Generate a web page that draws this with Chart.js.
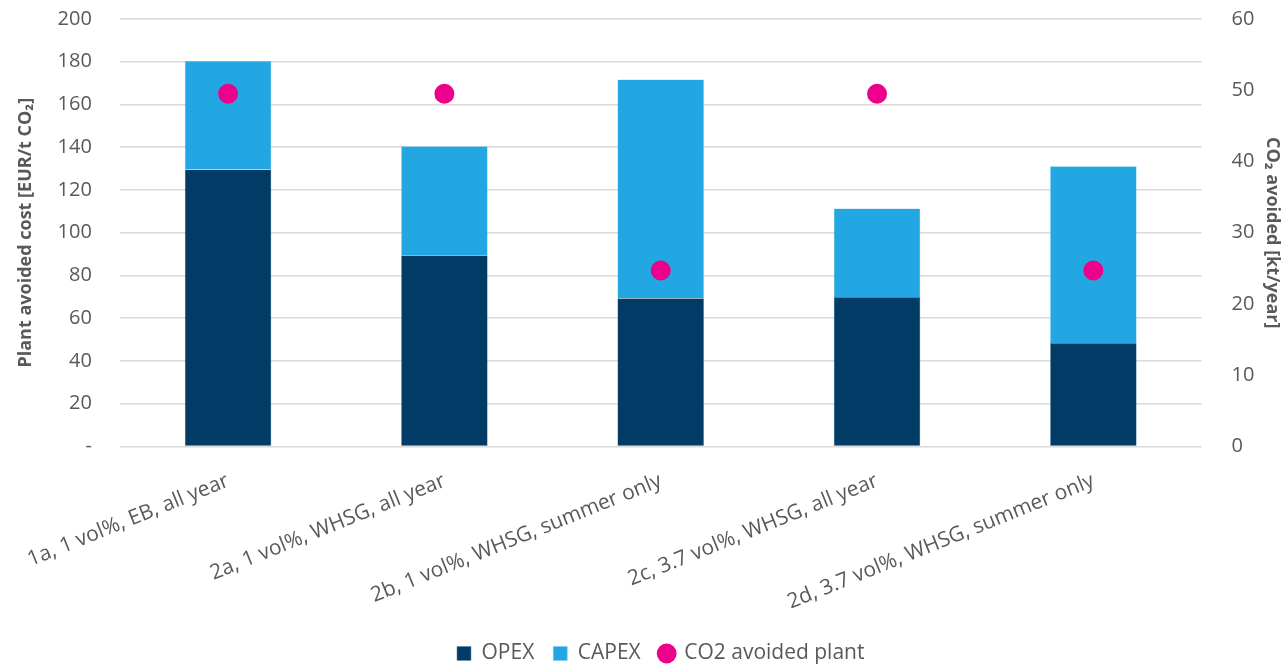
<!DOCTYPE html>
<html lang="en">
<head>
  <meta charset="UTF-8">
  <title>Plant avoided cost</title>
  <script src="https://cdn.jsdelivr.net/npm/chart.js"></script>
  <style>
    html, body {
      margin: 0;
      padding: 0;
      background: white;
    }
    #wrap {
      width: 1284px;
      height: 666px;
    }
  </style>
</head>
<body>
  <div id="wrap"><canvas id="chart"></canvas></div>

  <script>
    const categories = [
      '1a, 1 vol%, EB, all year',
      '2a, 1 vol%, WHSG, all year',
      '2b, 1 vol%, WHSG, summer only',
      '2c, 3.7 vol%, WHSG, all year',
      '2d, 3.7 vol%, WHSG, summer only'
    ];
    const opex = [129.6, 89.5, 69.3, 69.9, 48.4];
    const capex = [50.7, 51.0, 102.4, 41.4, 82.7];
    const co2Avoided = [49.5, 49.5, 24.7, 49.5, 24.7];

    const grey = '#595959';
    const fontFamily = "'Open Sans', 'Noto Sans', sans-serif";

    const ctx = document.getElementById('chart').getContext('2d');
    new Chart(ctx, {
      type: 'bar',
      data: {
        labels: categories,
        datasets: [
          {
            type: 'bar',
            label: 'OPEX',
            data: opex,
            backgroundColor: '#023c66',
            borderColor: '#5a87a8',
            borderWidth: 0.5,
            pointStyle: 'rect',
            stack: 'cost',
            yAxisID: 'y',
            order: 2
          },
          {
            type: 'bar',
            label: 'CAPEX',
            data: capex,
            backgroundColor: '#23a7e2',
            borderColor: '#7fcdf0',
            borderWidth: 0.5,
            pointStyle: 'rect',
            stack: 'cost',
            yAxisID: 'y',
            order: 2
          },
          {
            type: 'line',
            label: 'CO2 avoided plant',
            data: co2Avoided,
            showLine: false,
            pointStyle: 'circle',
            pointRadius: 10,
            pointHoverRadius: 10,
            backgroundColor: '#ec008c',
            borderColor: '#ec008c',
            borderWidth: 0,
            yAxisID: 'y1',
            order: 1
          }
        ]
      },
      options: {
        responsive: true,
        maintainAspectRatio: false,
        animation: false,
        layout: { padding: { top: 0, left: 1, right: 1, bottom: -8 } },
        datasets: {
          bar: { barPercentage: 0.4, categoryPercentage: 1.0 }
        },
        plugins: {
          legend: {
            position: 'bottom',
            fullSize: false,
            labels: {
              usePointStyle: true,
              boxWidth: 14,
              boxHeight: 14,
              padding: 19,
              color: grey,
              font: { family: fontFamily, size: 21 },
              sort: (a, b) => a.datasetIndex - b.datasetIndex
            }
          },
          tooltip: { enabled: false }
        },
        scales: {
          x: {
            stacked: true,
            grid: { display: false },
            border: { display: false },
            ticks: {
              color: grey,
              font: { family: fontFamily, size: 21 },
              minRotation: 22,
              maxRotation: 22,
              padding: 14
            },
            // rotated labels reserve more room than they use
            afterFit: scale => { scale.height -= 5; }
          },
          y: {
            stacked: true,
            position: 'left',
            min: 0,
            max: 200,
            ticks: {
              stepSize: 20,
              color: grey,
              padding: 7,
              font: { family: fontFamily, size: 20 },
              callback: v => v === 0 ? '-' : v
            },
            grid: { color: '#d9d9d9', lineWidth: 1.5, tickLength: 21, tickColor: 'transparent' },
            border: { display: false },
            title: {
              display: true,
              text: 'Plant avoided cost [EUR/t CO₂]',
              color: grey,
              font: { family: fontFamily, size: 18, weight: 'bold' },
              padding: 14
            }
          },
          y1: {
            position: 'right',
            min: 0,
            max: 60,
            ticks: {
              stepSize: 10,
              color: grey,
              padding: 7,
              font: { family: fontFamily, size: 20 }
            },
            grid: { drawOnChartArea: false, tickLength: 23, tickColor: 'transparent', color: 'transparent' },
            border: { display: false },
            title: {
              display: true,
              text: 'CO₂ avoided [kt/year]',
              color: grey,
              font: { family: fontFamily, size: 18, weight: 'bold' },
              padding: 0
            }
          }
        }
      }
    });
  </script>
</body>
</html>
